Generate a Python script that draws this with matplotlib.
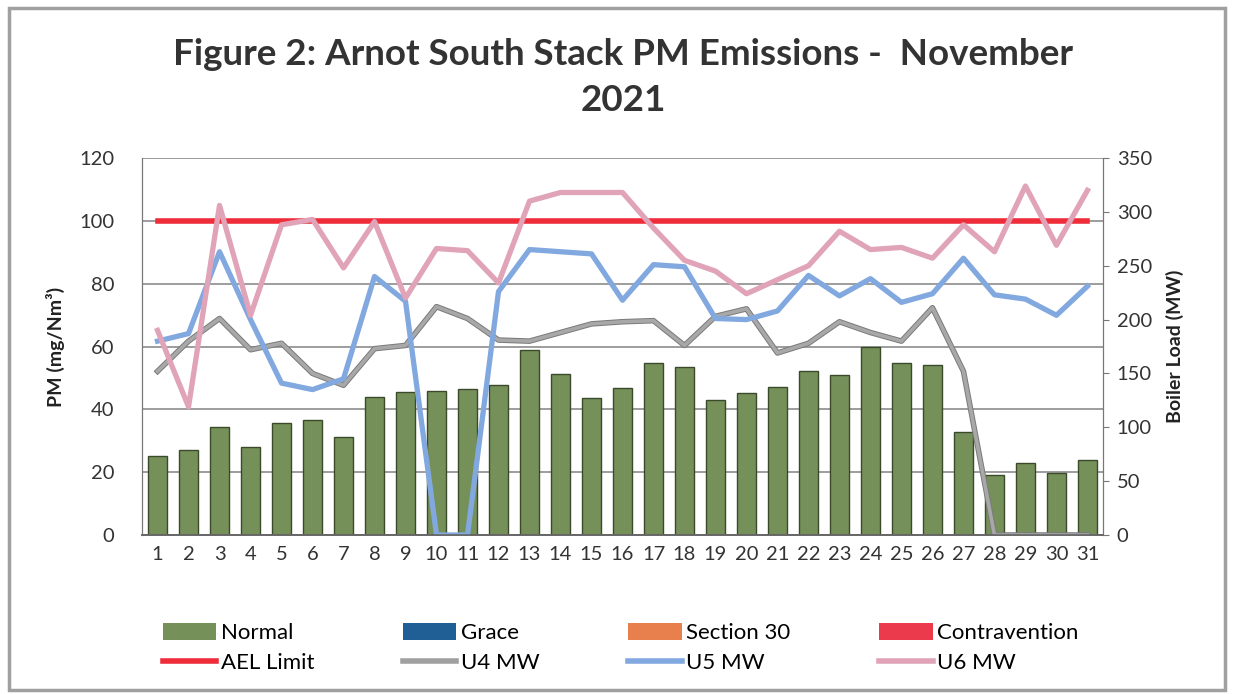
import matplotlib.pyplot as plt
from matplotlib.patches import Patch, Rectangle
from matplotlib.lines import Line2D
import matplotlib.patheffects as pe

plt.rcParams['font.family'] = ['Lato', 'DejaVu Sans']

days = list(range(1, 32))

# PM emissions (mg/Nm3), all days "Normal"
normal = [25, 27, 34.3, 28.1, 35.6, 36.6, 31.3, 44, 45.4, 45.8,
          46.4, 47.7, 58.9, 51.3, 43.5, 46.8, 54.7, 53.6, 43, 45.3,
          47, 52.2, 51, 59.8, 54.7, 54.1, 32.9, 19.1, 22.8, 19.8, 23.9]
ael_limit = [100] * 31

# Boiler load (MW)
u4_mw = [152, 180, 201, 172, 178, 150, 139, 173, 176, 212,
         201, 181, 180, 188, 196, 198, 199, 176, 203, 210,
         169, 178, 198, 188, 180, 211, 152, 0, 0, 0, 0]
u5_mw = [180, 187, 263, 200, 141, 135, 145, 240, 217, 0,
         0, 226, 265, 263, 261, 218, 251, 249, 201, 200,
         208, 241, 222, 238, 216, 224, 257, 223, 219, 204, 231]
u6_mw = [190, 119, 306, 204, 288, 293, 248, 291, 220, 266,
         264, 234, 310, 318, 318, 318, 285, 255, 245, 224,
         237, 250, 282, 265, 267, 257, 288, 263, 324, 269, 320]

fig = plt.figure(figsize=(12.34, 6.94), dpi=100)
fig.patches.append(Rectangle((0.007, 0.006), 0.986, 0.982, transform=fig.transFigure,
                             fill=False, edgecolor='#a0a0a0', linewidth=2.5))

ax = fig.add_axes([0.1151, 0.2291, 0.7787, 0.5432])
ax2 = ax.twinx()

ax.bar(days, normal, width=0.62, color='#76905a', edgecolor='#3a4a2a', linewidth=1.0, zorder=2)
ax.plot(days, ael_limit, color='#ee2c3a', linewidth=4, zorder=3)

ax2.plot(days, u4_mw, color='#a8a8a8', linewidth=2.6,
         path_effects=[pe.Stroke(linewidth=4.0, foreground='#7a7a7a'), pe.Normal()])
ax2.plot(days, u5_mw, color='#82a8e0', linewidth=3.8)
ax2.plot(days, u6_mw, color='#e0a3b8', linewidth=3.8)

ax.set_xlim(0.5, 31.5)
ax.set_ylim(0, 120)
ax.set_yticks(range(0, 121, 20))
ax2.set_ylim(0, 350)
ax2.set_yticks(range(0, 351, 50))
ax.set_xticks(days)
ax.yaxis.grid(True, color='#8c8c8c', linewidth=1.2, zorder=0)
ax.set_axisbelow(True)

for a in (ax, ax2):
    a.spines['top'].set_visible(False)
    a.spines['left'].set_color('#777777')
    a.spines['right'].set_color('#777777')
    a.spines['bottom'].set_color('#666666')
    a.spines['bottom'].set_linewidth(1.2)
ax.tick_params(axis='y', length=0, labelsize=14.5, colors='#333333', pad=20)
ax.tick_params(axis='x', length=0, labelsize=14.5, colors='#333333', pad=8)
ax2.tick_params(axis='y', length=4, labelsize=14.5, colors='#333333', pad=6)
ax2.tick_params(axis='y', color='#777777')

ax.set_ylabel('PM (mg/Nm³)', fontsize=14, fontweight='bold', color='#222222', labelpad=10)
ax2.set_ylabel('Boiler Load (MW)', fontsize=14, fontweight='bold', color='#222222', labelpad=10)

fig.text(0.505, 0.888, 'Figure 2: Arnot South Stack PM Emissions -  November\n2021',
         ha='center', va='center', fontsize=26.5, fontweight='bold', color='#333333',
         linespacing=1.5)

handles = [Patch(facecolor='#76905a'), Line2D([], [], color='#ee2c3a', lw=4),
           Patch(facecolor='#1f5f96'), Line2D([], [], color='#a0a0a0', lw=4),
           Patch(facecolor='#e8804e'), Line2D([], [], color='#82a8e0', lw=4),
           Patch(facecolor='#ea3a4c'), Line2D([], [], color='#e0a3b8', lw=4)]
labels = ['Normal', 'AEL Limit', 'Grace', 'U4 MW', 'Section 30', 'U5 MW',
          'Contravention', 'U6 MW']
fig.legend(handles, labels, ncol=4, loc='center', bbox_to_anchor=(0.503, 0.066),
           frameon=False, fontsize=16, handlelength=2.4, handleheight=0.8,
           handletextpad=0.2, columnspacing=4.0, labelspacing=0.45)

fig.savefig('out.png', dpi=100)
